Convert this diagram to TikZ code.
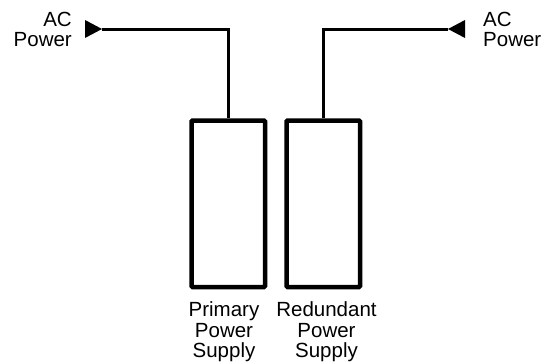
\documentclass[tikz,border=0pt]{standalone}
\usepackage{fontspec}
\setmainfont{Liberation Sans}
\begin{document}
\begin{tikzpicture}[x=1pt,y=-1pt,
  psbox/.style={draw=black,line width=4.5pt,fill=white,minimum width=73.5pt,minimum height=166.5pt,inner sep=0pt,rounded corners=1pt},
  wire/.style={line width=3pt},
  lbl/.style={inner sep=0pt,font=\fontsize{20.5}{20.7}\selectfont}]
\useasboundingbox (0,0) rectangle (542,364);
\node[psbox] (b1) at (228.25,203.75) {};
\node[psbox] (b2) at (323.25,203.75) {};
\coordinate (tipL) at (102,29);
\coordinate (tipR) at (448,29);
\draw[wire] (tipL) -| (b1.north);
\draw[wire] (tipR) -| (b2.north);
\fill (tipL) -- ++(-17,-9) -- ++(0,18) -- cycle;
\fill (tipR) -- ++(17,-9) -- ++(0,18) -- cycle;
\node[lbl,anchor=north east,align=right] (acL) at (72,11.5) {AC\\Power};
\node[lbl,anchor=north west,align=left] (acR) at (483,11.5) {AC\\Power};
\node[lbl,anchor=north,align=center] (l1) at (224,301.5) {Primary\\Power\\Supply};
\node[lbl,anchor=north,align=center] (l2) at (326.5,301.5) {Redundant\\Power\\Supply};
\end{tikzpicture}
\end{document}
